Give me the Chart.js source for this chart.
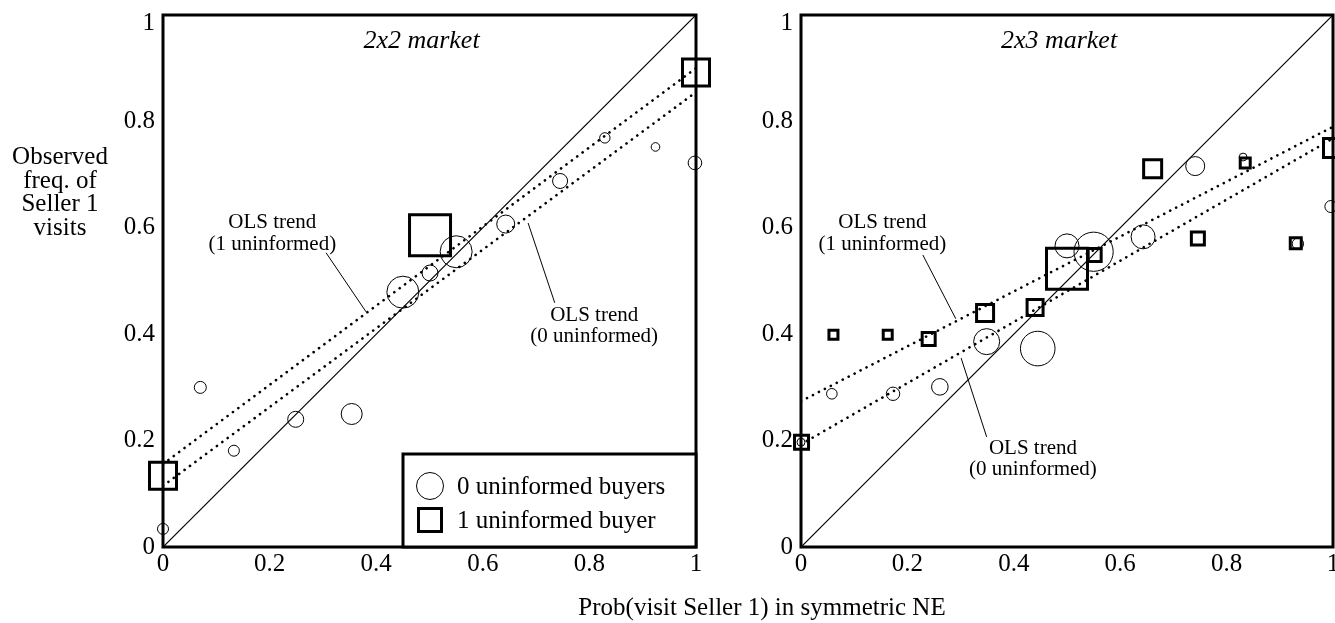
<!DOCTYPE html>
<html>
<head>
<meta charset="utf-8">
<script src="https://cdn.jsdelivr.net/npm/chart.js@4"></script>
<style>
  html, body { margin: 0; padding: 0; background: #fff; overflow: hidden; }
  body { width: 1335px; height: 623px; position: relative; }
  canvas { position: absolute; top: 0; }
  #left { left: 0; }
  #right { left: 740px; }
  #xtitle { position: absolute; left: 0; width: 1524px; top: 593px; line-height: 25px;
            text-align: center; font: 25px "Liberation Serif", "Times New Roman", serif; color: #000; }
</style>
</head>
<body>
<canvas id="left" width="740" height="623"></canvas>
<canvas id="right" width="605" height="623"></canvas>
<div id="xtitle">Prob(visit Seller 1) in symmetric NE</div>
<script>
// 2x2 market: observed frequency vs NE probability
const circ22X = [0, 0.07, 0.133, 0.249, 0.354, 0.45, 0.501, 0.55, 0.643, 0.745, 0.829, 0.924, 0.998];
const circ22Y = [0.034, 0.30, 0.181, 0.24, 0.25, 0.479, 0.515, 0.555, 0.607, 0.688, 0.769, 0.752, 0.722];
const sq22X = [0, 0.501, 1.0];
const sq22Y = [0.134, 0.586, 0.892];
// OLS trend: value at x=0 and at x=1
const ols22One = [0.156, 0.90];
const ols22Zero = [0.115, 0.855];

// 2x3 market
const circ23X = [0, 0.058, 0.173, 0.261, 0.349, 0.445, 0.5, 0.55, 0.643, 0.741, 0.831, 0.934, 0.996];
const circ23Y = [0.197, 0.288, 0.288, 0.301, 0.386, 0.373, 0.566, 0.555, 0.583, 0.716, 0.733, 0.57, 0.64];
const sq23X = [0.001, 0.061, 0.163, 0.24, 0.346, 0.44, 0.5, 0.552, 0.661, 0.746, 0.835, 0.93, 1.0];
const sq23Y = [0.197, 0.399, 0.399, 0.391, 0.44, 0.45, 0.523, 0.549, 0.711, 0.58, 0.722, 0.571, 0.75];
const ols23One = [0.274, 0.79];
const ols23Zero = [0.193, 0.768];

const tickValues = [0, 0.2, 0.4, 0.6, 0.8, 1];

// marker sizes in px (circle radius, square outer side)
const circ22R = [5.5, 6, 5.5, 8, 10.5, 16, 8, 16, 9, 7.5, 5.2, 4.3, 6.8];
const sq22Side = [30, 44, 30];
const circ23R = [4, 5.3, 6.7, 8.3, 13, 17.3, 12, 19.6, 12, 9.5, 3.9, 5.7, 6];
const sq23Side = [17, 12, 12, 16, 20, 19, 44, 16, 21, 16, 13, 14, 22];

const SERIF = '"Liberation Serif", "Times New Roman", serif';
Chart.defaults.font.family = SERIF;
Chart.defaults.color = '#000';

const SQ_BORDER = 3;

function pts(xs, ys) {
  return xs.map((x, i) => ({ x: x, y: ys[i] }));
}

function datasets(cx, cy, cr, sx, sy, ss, olsOne, olsZero) {
  const dotted = {
    showLine: true, pointRadius: 0, borderColor: '#000', borderWidth: 2.6,
    borderDash: [0.1, 6.6], borderCapStyle: 'round'
  };
  return [
    {
      data: pts(cx, cy), pointStyle: 'circle', pointRadius: cr,
      borderColor: '#000', backgroundColor: 'rgba(0,0,0,0)', pointBorderWidth: 1, clip: false
    },
    {
      data: pts(sx, sy), pointStyle: 'rect',
      pointRadius: ss.map(s => (s - SQ_BORDER) / Math.SQRT2),
      borderColor: '#000', backgroundColor: 'rgba(0,0,0,0)', pointBorderWidth: SQ_BORDER, clip: false
    },
    Object.assign({ data: pts([0, 1], olsOne) }, dotted),
    Object.assign({ data: pts([0, 1], olsZero) }, dotted),
    { data: pts([0, 1], [0, 1]), showLine: true, pointRadius: 0, borderColor: '#000', borderWidth: 1.2 }
  ];
}

function scales(yWidth) {
  const tickCb = v => String(+v.toFixed(1));
  return {
    x: {
      type: 'linear', min: 0, max: 1,
      grid: { display: false, drawTicks: false }, border: { display: false },
      ticks: { font: { size: 25 }, padding: 2, maxRotation: 0, callback: tickCb },
      afterBuildTicks: s => { s.ticks = tickValues.map(v => ({ value: v })); },
      afterFit: s => { s.height = 40; s.paddingLeft = 0; s.paddingRight = 0; }
    },
    y: {
      type: 'linear', min: 0, max: 1,
      grid: { display: false, drawTicks: false }, border: { display: false },
      ticks: {
        padding: 8,
        // top label "1" sits a little lower, level with the frame
        font: c => ({ size: 25, lineHeight: c.tick && c.tick.value === 1 ? 0.64 : 1.2 }),
        callback: v => (v === 1 ? ['', '1'] : tickCb(v))
      },
      afterBuildTicks: s => { s.ticks = tickValues.map(v => ({ value: v })); },
      afterFit: s => { s.width = yWidth; s.paddingTop = 0; s.paddingBottom = 0; }
    }
  };
}

// frame, panel title, OLS notes, legend, y title
function makeDecor(cfg) {
  return {
    id: 'decor',
    beforeDatasetsDraw(chart) {
      const { ctx, chartArea: a } = chart;
      ctx.save();
      ctx.strokeStyle = '#000';
      ctx.lineWidth = 3;
      ctx.strokeRect(a.left, a.top, a.right - a.left, a.bottom - a.top);
      ctx.restore();
    },
    afterDatasetsDraw(chart) {
      const { ctx, chartArea: a } = chart;
      const xs = chart.scales.x, ys = chart.scales.y;
      ctx.save();
      ctx.fillStyle = '#000';
      ctx.strokeStyle = '#000';
      ctx.textAlign = 'center';
      ctx.textBaseline = 'alphabetic';
      ctx.font = 'italic 26px ' + SERIF;
      ctx.fillText(cfg.title, (a.left + a.right) / 2 - 8, a.top + 33);

      ctx.font = '21px ' + SERIF;
      ctx.lineWidth = 1;
      cfg.notes.forEach(n => {
        const px = xs.getPixelForValue(n.x);
        n.lines.forEach((t, i) => ctx.fillText(t, px, ys.getPixelForValue(n.y[i])));
        ctx.beginPath();
        ctx.moveTo(xs.getPixelForValue(n.lead[0]), ys.getPixelForValue(n.lead[1]));
        ctx.lineTo(xs.getPixelForValue(n.lead[2]), ys.getPixelForValue(n.lead[3]));
        ctx.stroke();
      });

      if (cfg.legend) {
        const bx = a.right - 293, by = a.bottom - 93;
        ctx.fillStyle = '#fff';
        ctx.fillRect(bx, by, a.right - bx, a.bottom - by);
        ctx.lineWidth = 3;
        ctx.strokeRect(bx, by, a.right - bx, a.bottom - by);
        ctx.lineWidth = 1;
        ctx.beginPath();
        ctx.arc(bx + 27, by + 32, 13.5, 0, Math.PI * 2);
        ctx.stroke();
        ctx.lineWidth = 3;
        ctx.strokeRect(bx + 27 - 11.5, by + 66 - 11.5, 23, 23);
        ctx.fillStyle = '#000';
        ctx.textAlign = 'left';
        ctx.font = '25px ' + SERIF;
        ctx.fillText('0 uninformed buyers', bx + 54, by + 40);
        ctx.fillText('1 uninformed buyer', bx + 54, by + 74);
      }

      if (cfg.yTitle) {
        ctx.textAlign = 'center';
        ctx.font = '25px ' + SERIF;
        cfg.yTitle.forEach((t, i) => ctx.fillText(t, 60, 164 + i * 23.5));
      }
      ctx.restore();
    }
  };
}

function makeChart(id, ds, yWidth, padRight, decor) {
  new Chart(document.getElementById(id), {
    type: 'scatter',
    data: { datasets: ds },
    options: {
      responsive: false,
      animation: false,
      events: [],
      layout: { autoPadding: false, padding: { left: 0, right: padRight, top: 15, bottom: 36 } },
      plugins: { legend: { display: false }, tooltip: { enabled: false } },
      scales: scales(yWidth)
    },
    plugins: [makeDecor(decor)]
  });
}

makeChart('left',
  datasets(circ22X, circ22Y, circ22R, sq22X, sq22Y, sq22Side, ols22One, ols22Zero),
  163, 44,
  {
    title: '2x2 market',
    legend: true,
    yTitle: ['Observed', 'freq. of', 'Seller 1', 'visits'],
    notes: [
      { x: 0.205, y: [0.5996, 0.5583], lines: ['OLS trend', '(1 uninformed)'], lead: [0.306, 0.553, 0.381, 0.442] },
      { x: 0.809, y: [0.425, 0.385], lines: ['OLS trend', '(0 uninformed)'], lead: [0.685, 0.609, 0.735, 0.459] }
    ]
  });

makeChart('right',
  datasets(circ23X, circ23Y, circ23R, sq23X, sq23Y, sq23Side, ols23One, ols23Zero),
  61, 12,
  {
    title: '2x3 market',
    legend: false,
    notes: [
      { x: 0.153, y: [0.5996, 0.5583], lines: ['OLS trend', '(1 uninformed)'], lead: [0.229, 0.549, 0.291, 0.429] },
      { x: 0.436, y: [0.175, 0.135], lines: ['OLS trend', '(0 uninformed)'], lead: [0.301, 0.355, 0.349, 0.207] }
    ]
  });
</script>
</body>
</html>
